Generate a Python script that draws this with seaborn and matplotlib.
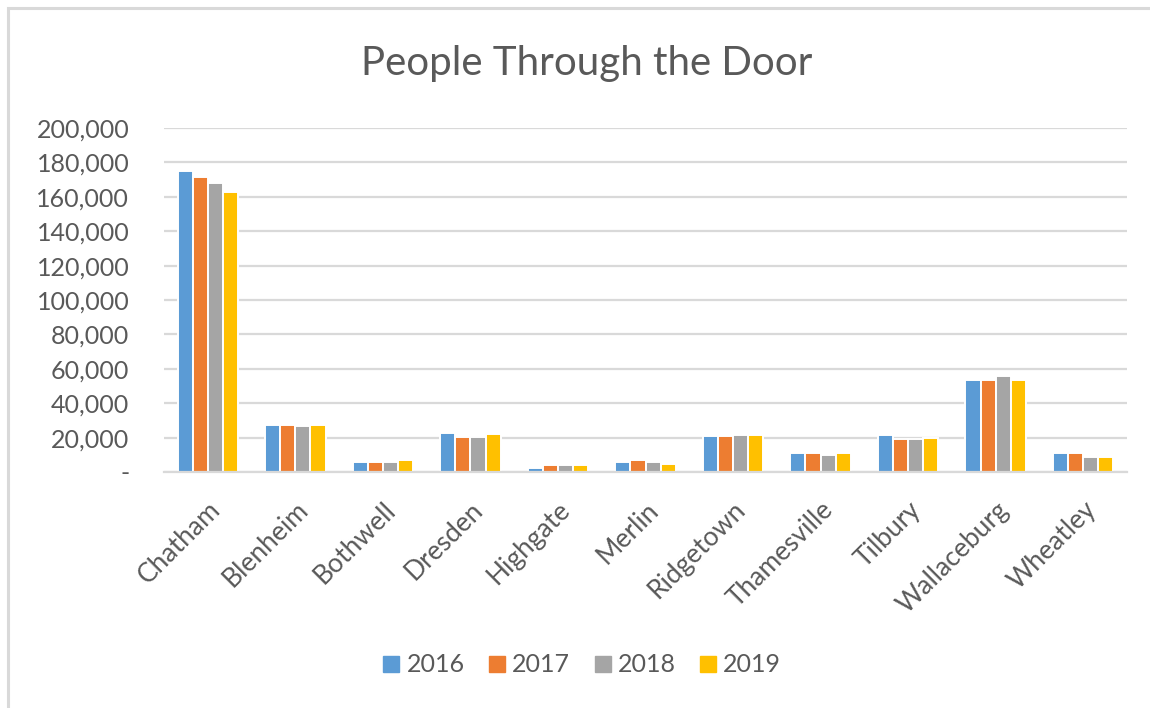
import matplotlib
matplotlib.use("Agg")
import matplotlib.pyplot as plt
import seaborn as sns
import pandas as pd
from matplotlib.lines import Line2D
from matplotlib.ticker import FuncFormatter, MultipleLocator

categories = ["Chatham", "Blenheim", "Bothwell", "Dresden", "Highgate", "Merlin",
              "Ridgetown", "Thamesville", "Tilbury", "Wallaceburg", "Wheatley"]
years = ["2016", "2017", "2018", "2019"]
v2016 = [175000, 27500, 5700, 22900, 2200, 5700, 20900, 10800, 21700, 53600, 10800]
v2017 = [171600, 27500, 5700, 20400, 4100, 6700, 20900, 10800, 19100, 53600, 10800]
v2018 = [167900, 26700, 5700, 20400, 4100, 5700, 21700, 9900, 19100, 55600, 9000]
v2019 = [162500, 27500, 6700, 22000, 4100, 4900, 21700, 10800, 19900, 53600, 9000]
colors = ["#5B9BD5", "#ED7D31", "#A5A5A5", "#FFC000"]
title = "People Through the Door"

rows = []
for yr, vals in zip(years, [v2016, v2017, v2018, v2019]):
    for c, v in zip(categories, vals):
        rows.append({"Location": c, "Year": yr, "Visitors": v})
df = pd.DataFrame(rows)

sns.set_theme(style="white")
plt.rcParams["font.family"] = ["Lato", "DejaVu Sans"]
txt = "#595959"
grid = "#D9D9D9"

W, H = 1150, 708
fig = plt.figure(figsize=(W / 100, H / 100), dpi=100)
fig.patch.set_facecolor("white")

# chart border (only top/left visible in the reference)
fig.add_artist(plt.Rectangle((8 / W, -0.05), 1.2, 1 - 8 / H + 0.05, transform=fig.transFigure,
                             fill=False, edgecolor=grid, linewidth=2.2))

ax = fig.add_axes([164 / W, 1 - 472 / H, (1127 - 164) / W, (472 - 128) / H])
sns.barplot(data=df, x="Location", y="Visitors", hue="Year", order=categories,
            hue_order=years, palette=colors, width=0.69, edgecolor="white",
            linewidth=1.4, saturation=1, ax=ax, legend=False)

ax.set_ylim(0, 200000)
ax.set_xlim(-0.5, len(categories) - 0.5)
ax.yaxis.set_major_locator(MultipleLocator(20000))
ax.yaxis.set_major_formatter(FuncFormatter(lambda v, p: "-" if v == 0 else f"{int(v):,}"))
ax.grid(axis="y", color=grid, linewidth=1.6)
ax.set_axisbelow(True)
for s in ["top", "right", "left"]:
    ax.spines[s].set_visible(False)
ax.spines["bottom"].set_color(grid)
ax.spines["bottom"].set_linewidth(1.6)
ax.set_xlabel("")
ax.set_ylabel("")
ax.tick_params(axis="y", length=0, pad=25, labelsize=18, labelcolor=txt)
ax.tick_params(axis="x", length=0, pad=18, labelsize=19, labelcolor=txt)
plt.setp(ax.get_xticklabels(), rotation=45, ha="right", va="top", rotation_mode="anchor")

fig.text(587 / W, 1 - 63 / H, title, ha="center", va="center", fontsize=29, color=txt)

handles = [Line2D([0], [0], marker="s", linestyle="", markersize=11, markerfacecolor=c,
                  markeredgecolor=c) for c in colors]
fig.legend(handles, years, loc="center", bbox_to_anchor=(580 / W, 1 - 665 / H), ncol=4,
           frameon=False, fontsize=18, labelcolor=txt, handletextpad=0.1,
           columnspacing=0.8, handlelength=1.0)

fig.savefig("out.png", dpi=100, facecolor="white")
